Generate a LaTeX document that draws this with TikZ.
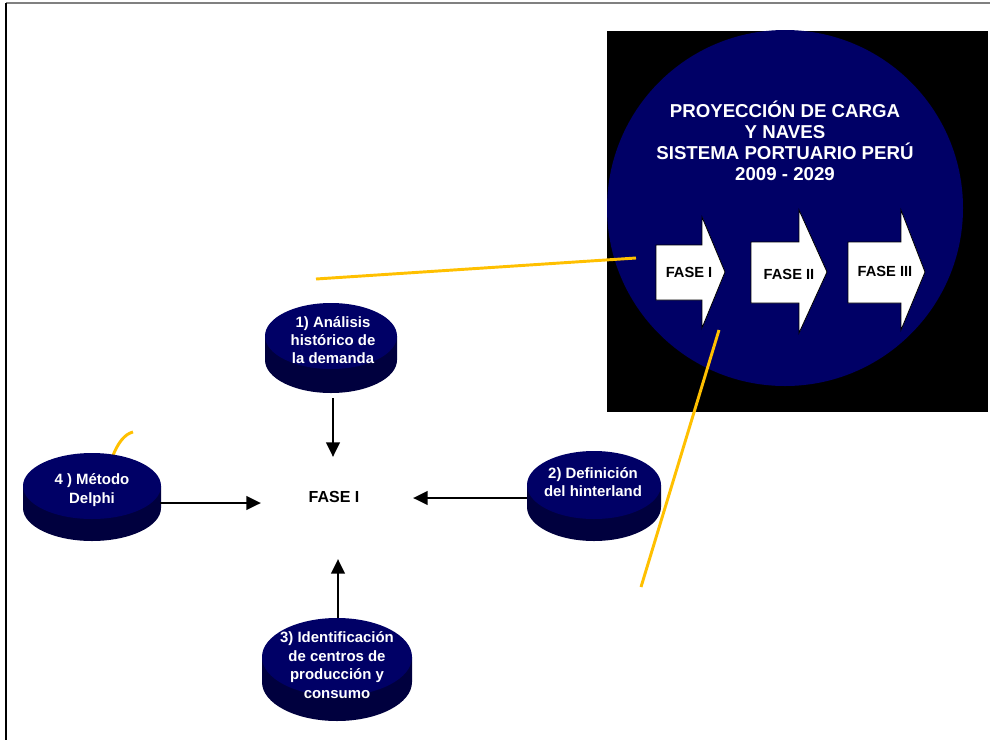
\documentclass[tikz,border=0pt]{standalone}
\usepackage{fontspec}
\setmainfont{Liberation Sans}
\usetikzlibrary{arrows.meta}
\definecolor{navy}{RGB}{0,0,102}
\definecolor{navyside}{RGB}{0,0,62}
\definecolor{gold}{RGB}{255,192,0}

% cylinder-like disk: centre x, centre y, x radius, y radius, depth
\newcommand\drawdisk[5]{%
  \fill[navyside] (#1-#3,#2) -- (#1-#3,#2+#5)
    arc[start angle=180,end angle=0,x radius=#3,y radius=#4]
    -- (#1+#3,#2) -- cycle;
  \fill[navy] (#1,#2) ellipse[x radius=#3,y radius=#4];
}

\tikzset{
  disktext/.style={text=white,align=center,font=\fontsize{11.2}{13.8}\selectfont\bfseries},
  phasearrow/.style={draw=black,line width=0.6pt,fill=white},
  phaselabel/.style={font=\fontsize{11}{12}\selectfont\bfseries},
  conn/.style={line width=2.2pt,-{Triangle[length=11pt,width=10pt]}},
  link/.style={gold,line width=2.2pt},
}

\begin{document}
\begin{tikzpicture}[x=0.75pt,y=-0.75pt]
\useasboundingbox (0,0) rectangle (990,740);
\fill[white] (0,0) rectangle (990,740);

% page frame
\draw[gray,line width=1.6pt] (6,3) -- (990,3);
\draw[black,line width=1.6pt] (6,3) -- (6,740);

% title panel
\fill[black] (607,31) rectangle (988,412);
\fill[navy] (785,208) circle[radius=178];
\node[text=white,align=center,font=\fontsize{14}{15.8}\selectfont\bfseries] (title) at (785,141)
  {PROYECCIÓN DE CARGA\\Y NAVES\\SISTEMA PORTUARIO PERÚ\\2009 - 2029};

% phase arrows
\draw[phasearrow] (656,245) -- (702,245) -- (702,217) -- (725,272) -- (702,328) -- (702,300) -- (656,300) -- cycle;
\draw[phasearrow] (751,242) -- (799,242) -- (799,210) -- (827,272) -- (799,333) -- (799,303) -- (751,303) -- cycle;
\draw[phasearrow] (848,242) -- (901,242) -- (901,210) -- (925,272) -- (901,330) -- (901,303) -- (848,303) -- cycle;
\node[phaselabel] (f1) at (689,272) {FASE I};
\node[phaselabel] (f2) at (789,274) {FASE II};
\node[phaselabel] (f3) at (885,271) {FASE III};

% callout lines
\coordinate (l1a) at (316,279);
\coordinate (l1b) at (636,258);
\coordinate (l2a) at (719,330);
\coordinate (l2b) at (641,587);
\draw[link] (l1a) -- (l1b);
\draw[link] (l2a) -- (l2b);
\coordinate (c1) at (112,458);
\coordinate (c2) at (133,432);
\draw[link] (c1) .. controls (118,442) and (125,434) .. (c2);

% disks
\drawdisk{331}{336}{66}{33}{24}
\drawdisk{92}{486}{69}{33}{22}
\drawdisk{594}{485}{67}{34}{22}
\drawdisk{337}{657}{75}{39}{25}

\node[disktext] (d1) at (333,340) {1) Análisis\\histórico de\\la demanda};
\node[disktext] (d4) at (92,490) {4 ) Método\\Delphi};
\node[disktext] (d2) at (593,482) {2) Definición\\del hinterland};
\node[disktext] (d3) at (337,665) {3) Identificación\\de centros de\\producción y\\consumo};

% centre label
\node[font=\fontsize{12}{14}\selectfont\bfseries] (fc) at (334,497) {FASE I};

% connectors into the centre
\coordinate (d1s) at (333,398);
\coordinate (d1e) at (333,457);
\coordinate (d4s) at (160,503);
\coordinate (d4e) at (261,503);
\coordinate (d2s) at (527,498);
\coordinate (d2e) at (413,498);
\coordinate (d3s) at (338,618);
\coordinate (d3e) at (338,559);
\draw[conn] (d1s) -- (d1e);
\draw[conn] (d4s) -- (d4e);
\draw[conn] (d2s) -- (d2e);
\draw[conn] (d3s) -- (d3e);
\end{tikzpicture}
\end{document}
